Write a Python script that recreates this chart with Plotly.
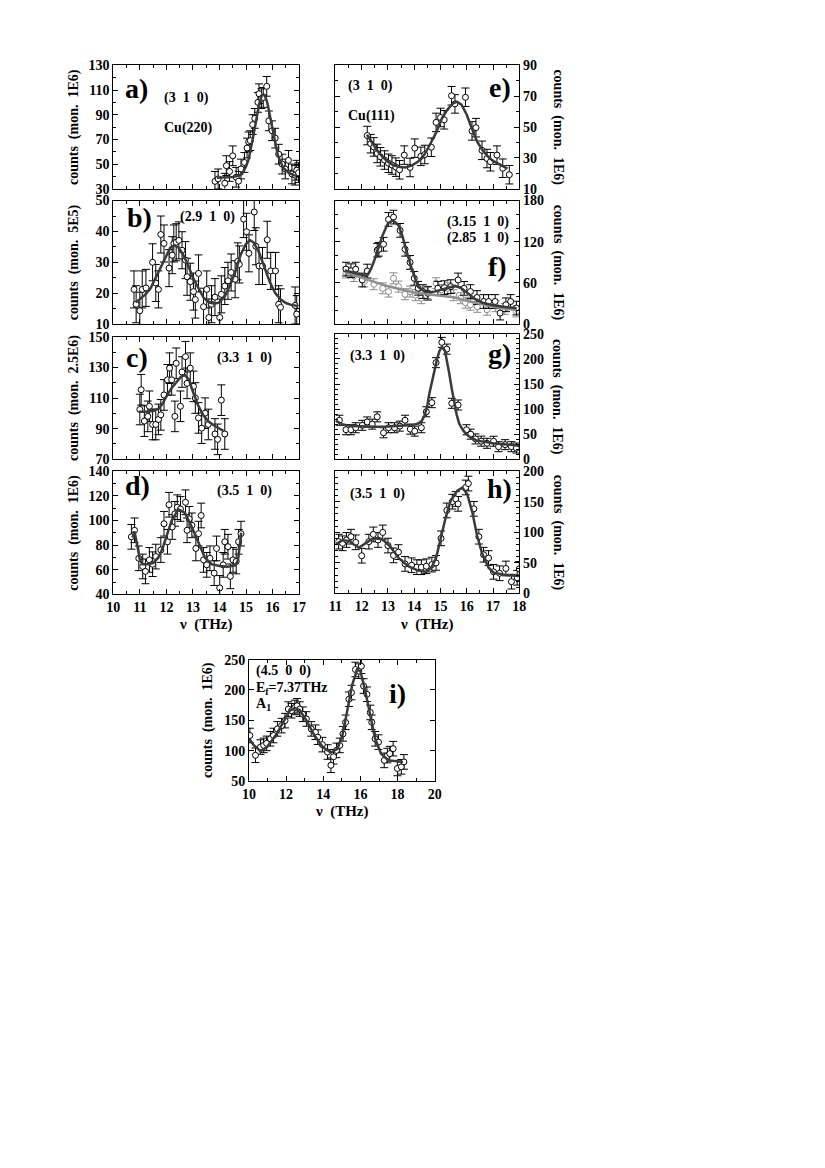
import plotly.graph_objects as go

W, H = 825, 1168
SERIF = "Liberation Serif"

# ---- panel a) (3 1 0), Cu(220)
a_x = [13.83, 13.95, 14.2, 14.26, 14.38, 14.5, 14.63, 14.72, 14.81, 14.94, 15.04, 15.1, 15.16, 15.25,
       15.33, 15.45, 15.49, 15.58, 15.65, 15.78, 15.86, 15.98, 16.1, 16.23, 16.36, 16.48, 16.6, 16.73,
       16.85, 16.91, 16.98]
a_y = [36, 38, 34.5, 48.7, 44, 56.7, 39.3, 36.1, 46, 51.3, 63, 68, 69, 82, 87, 100, 107, 103, 104, 113,
       85, 77, 71, 58, 50, 46, 53, 42, 41, 45, 43]
a_fit_x = [13.9, 14.2, 14.5, 14.7, 14.85, 15.0, 15.1, 15.25, 15.4, 15.5, 15.6, 15.7, 15.8, 15.9, 16.0,
           16.1, 16.2, 16.4, 16.6, 16.8, 16.95]
a_fit_y = [39, 39, 39.5, 40.5, 42, 48, 54, 70, 89, 99, 106, 106, 100, 89, 78, 67, 57, 47, 43, 41, 40]

# ---- panel b) (2.9 1 0)
b_x = [10.78, 10.86, 11.0, 11.09, 11.23, 11.48, 11.6, 11.7, 11.79, 11.91, 12.1, 12.22, 12.28, 12.37,
       12.47, 12.59, 12.72, 12.78, 12.9, 13.02, 13.09, 13.21, 13.4, 13.52, 13.6, 13.7, 13.83, 14.01,
       14.07, 14.2, 14.32, 14.44, 14.59, 14.69, 14.75, 14.91, 15.02, 15.11, 15.31, 15.37, 15.49, 15.62,
       15.8, 15.93, 16.11, 16.23, 16.3, 16.85, 16.91]
b_y = [21.2, 16.4, 14.3, 21.2, 21.7, 30, 23.3, 21.2, 39, 36.1, 28.1, 32.3, 36.1, 36.5, 37.1, 33.9, 30.7,
       25.3, 23.7, 20.5, 17.9, 26.4, 15.6, 21.2, 12.1, 16.4, 18.7, 12.1, 19.6, 22.3, 24, 26.7, 24.5, 30.3,
       29.3, 44, 39.9, 32.9, 46.3, 35.2, 28.8, 28.8, 37.3, 27.2, 27.2, 16.4, 15.4, 16, 13.2]
b_fit_x = [10.85, 11.0, 11.2, 11.4, 11.6, 11.8, 12.0, 12.15, 12.3, 12.45, 12.6, 12.8, 13.0, 13.2, 13.4,
           13.6, 13.8, 14.0, 14.2, 14.4, 14.6, 14.8, 15.0, 15.15, 15.3, 15.5, 15.7, 15.9, 16.1, 16.3,
           16.5, 16.7, 16.95]
b_fit_y = [17, 18, 19.5, 21.5, 25, 29, 32.5, 34.8, 35.5, 34.8, 33, 29.5, 25, 21.5, 18.5, 17, 16.6, 17,
           19, 22.5, 27, 32.5, 36, 37.2, 36.3, 33, 28.5, 23.5, 20, 18, 16.8, 16.2, 15.8]

# ---- panel c) (3.3 1 0)
c_x = [11.0, 11.05, 11.17, 11.3, 11.36, 11.48, 11.6, 11.7, 11.79, 11.91, 12.04, 12.12, 12.2, 12.32,
       12.37, 12.53, 12.59, 12.72, 12.78, 12.9, 13.02, 13.09, 13.21, 13.33, 13.46, 13.58, 13.83, 13.93,
       14.07, 14.2]
c_y = [102.5, 115.4, 94.9, 98, 104.6, 92.7, 92.7, 96, 99, 112, 121.9, 129.5, 121.9, 98, 132.7, 104.6,
       127, 137, 119.6, 129.5, 117.6, 110, 97, 90.3, 100.1, 92.7, 86.5, 83, 108.6, 86.5]
c_fit_x = [10.95, 11.2, 11.5, 11.7, 11.85, 12.0, 12.2, 12.4, 12.55, 12.7, 12.85, 13.0, 13.2, 13.4,
           13.6, 13.8, 14.0, 14.15]
c_fit_y = [101, 101, 101.5, 103, 106, 111, 116.5, 121, 124, 125, 122, 114, 105, 98.5, 94.5, 92, 90, 88.5]

# ---- panel d) (3.5 1 0)
d_x = [10.68, 10.8, 10.96, 11.11, 11.21, 11.36, 11.48, 11.6, 11.79, 11.91, 12.04, 12.1, 12.22, 12.32,
       12.41, 12.53, 12.72, 12.78, 12.86, 12.96, 13.11, 13.21, 13.31, 13.4, 13.52, 13.64, 13.8, 13.89,
       14.01, 14.14, 14.2, 14.32, 14.41, 14.51, 14.63, 14.72, 14.81]
d_y = [86.7, 92, 69.3, 62.7, 58.7, 68, 64.5, 70.7, 76, 97.3, 82.7, 112.7, 94.7, 105.3, 110.7, 109.3,
       114.7, 92, 101.3, 96, 77.3, 89.3, 104, 68, 64, 69.3, 57.3, 77.3, 45.3, 64, 82.7, 78.7, 54.7, 68,
       66.7, 82.7, 89.3]
d_fit_x = [10.72, 10.8, 10.9, 11.0, 11.1, 11.3, 11.5, 11.7, 11.85, 12.0, 12.2, 12.45, 12.7, 12.95,
           13.2, 13.45, 13.7, 14.0, 14.3, 14.6, 14.7, 14.76, 14.82]
d_fit_y = [86, 91, 80, 68, 64.5, 64.5, 65.5, 70, 77, 87, 100, 109, 106, 95, 82, 70, 64.5, 63, 62.5,
           63.5, 68, 78, 90]

# ---- panel e) (3 1 0), Cu(111)
e_x = [12.21, 12.34, 12.46, 12.59, 12.71, 12.87, 13.02, 13.15, 13.3, 13.44, 13.62, 13.84, 14.02, 14.25,
       14.4, 14.65, 14.83, 15.0, 15.14, 15.42, 15.55, 15.95, 16.2, 16.35, 16.58, 16.77, 16.9, 17.15,
       17.37, 17.62]
e_y = [44.5, 39.2, 37.1, 32.9, 30.7, 28.6, 26.5, 25.4, 24, 22.3, 31.8, 23.8, 36.3, 31, 32.2, 36.9, 53,
       56.2, 54.7, 70.3, 65, 69.3, 47.5, 49.6, 34.9, 29.6, 27.5, 31.8, 23.3, 19.1]
e_fit_x = [12.2, 12.4, 12.6, 12.8, 13.0, 13.2, 13.4, 13.65, 13.9, 14.15, 14.4, 14.65, 14.85, 15.05,
           15.25, 15.45, 15.62, 15.8, 16.0, 16.15, 16.4, 16.6, 16.8, 17.0, 17.2, 17.4, 17.55]
e_fit_y = [45, 39.5, 34.5, 30.5, 27.5, 25.3, 24.2, 23.8, 25, 27.6, 32.5, 40.3, 47, 55.5, 61, 65, 66.5,
           64.5, 58, 51, 40.3, 35, 31, 28, 26, 24.3, 23]

# ---- panel f) (3.15 1 0) dark, (2.85 1 0) grey
f_x = [11.4, 11.59, 11.77, 12.02, 12.21, 12.59, 12.65, 12.83, 13.02, 13.21, 13.46, 13.65, 13.84, 14.0,
       14.15, 14.33, 14.52, 14.9, 15.15, 15.39, 15.67, 15.9, 16.14, 16.39, 16.64, 16.83, 17.08, 17.27,
       17.49, 17.67, 17.89]
f_y = [80, 77.7, 80, 64.2, 77.2, 107.6, 109, 116.3, 152.5, 155.9, 136.6, 109, 89.8, 66.6, 52.1, 47.3,
       44.9, 52.1, 53, 54.5, 64.2, 52, 47.3, 38.6, 32.8, 32.8, 32.8, 15.9, 28, 32.8, 23.2]
f_fit_x = [11.35, 11.6, 11.9, 12.2, 12.35, 12.5, 12.65, 12.8, 13.0, 13.2, 13.4, 13.55, 13.7, 13.9,
           14.15, 14.4, 14.7, 15.0, 15.3, 15.55, 15.8, 16.05, 16.3, 16.6, 16.9, 17.3, 17.6, 17.9]
f_fit_y = [78, 76, 73, 70, 80, 95, 113, 130, 147, 151, 144, 128, 107, 81, 54, 47, 46.5, 49.5, 53, 55.5,
           52, 44, 37, 31, 28, 25.5, 24.5, 23]
f2_x = [11.4, 11.7, 12.1, 12.46, 12.8, 13.02, 13.21, 13.4, 13.65, 13.84, 14.05, 14.27, 14.5, 14.83,
        15.02, 15.27, 15.5, 15.77, 15.95, 16.14, 16.4, 16.77, 17.1, 17.45, 17.89]
f2_y = [75, 70, 62, 58, 52, 47.3, 66.6, 54.5, 43.4, 47.3, 42, 37.6, 45, 59.4, 49.7, 52.1, 42, 37.6, 31,
        28, 25, 20.8, 26, 22, 18.3]
f2_fit_x = [11.35, 12.0, 12.5, 13.0, 13.5, 14.0, 14.5, 15.0, 15.5, 16.0, 16.5, 17.0, 17.5, 17.9]
f2_fit_y = [76, 67, 61, 55, 50, 46, 43.5, 41.5, 39, 34, 29, 25, 22, 20.5]

# ---- panel g) (3.3 1 0)
g_x = [11.15, 11.4, 11.59, 11.77, 12.02, 12.21, 12.4, 12.59, 12.83, 13.02, 13.25, 13.45, 13.65, 13.85,
       14.02, 14.27, 14.46, 14.67, 14.83, 15.05, 15.24, 15.43, 15.67, 15.99, 16.15, 16.33, 16.55, 16.77,
       17.02, 17.21, 17.46, 17.7, 17.89]
g_y = [77.7, 58.8, 58.8, 62.8, 67.6, 74.3, 70, 84.5, 52.7, 62.8, 62.8, 66, 77.7, 60, 56, 62.8, 94.6,
       112.8, 192.6, 233, 219.6, 111.5, 108.1, 58.8, 50, 40.5, 36, 31.8, 35.8, 25, 29, 25, 22.3]
g_fit_x = [11.0, 11.25, 11.6, 12.0, 12.5, 13.0, 13.5, 13.9, 14.15, 14.28, 14.4, 14.5, 14.58, 14.68,
           14.77, 14.87, 14.96, 15.05, 15.17, 15.25, 15.33, 15.43, 15.52, 15.62, 15.71, 15.85, 15.96,
           16.15, 16.4, 16.7, 17.0, 17.4, 17.7, 18.0]
g_fit_y = [77, 70, 66, 65, 64.5, 65, 66, 68, 71, 76, 88, 108, 132, 158, 179, 200, 216, 224, 216, 197,
           172, 140, 112, 88, 71, 58, 51, 43, 37, 34, 32, 30, 28.5, 27]

# ---- panel h) (3.5 1 0)
h_x = [11.12, 11.27, 11.42, 11.59, 11.77, 12.0, 12.27, 12.44, 12.62, 12.8, 13.0, 13.21, 13.4, 13.65,
       13.9, 14.1, 14.27, 14.46, 14.67, 14.83, 15.02, 15.24, 15.45, 15.58, 15.67, 15.96, 16.06, 16.27,
       16.46, 16.64, 16.83, 17.02, 17.25, 17.49, 17.7, 17.92, 18.0]
h_y = [84.7, 82, 87.4, 92.8, 83.6, 61.7, 84.7, 96.5, 87.4, 99.7, 78.3, 62.2, 67.6, 48.3, 46.1, 43, 42.9,
       44.5, 47.2, 49.9, 90.1, 135.7, 150, 154.4, 146.4, 173.2, 179.6, 138.3, 92.8, 63.3, 57.9, 35.4, 33,
       40.8, 19.3, 25.7, 40.2]
h_fit_x = [11.0, 11.27, 11.52, 11.7, 11.9, 12.15, 12.35, 12.52, 12.77, 13.08, 13.4, 13.77, 14.15, 14.46,
           14.65, 14.83, 15.02, 15.2, 15.39, 15.64, 15.83, 16.02, 16.21, 16.39, 16.58, 16.83, 17.02,
           17.52, 18.0]
h_fit_y = [80, 87, 86, 80, 75, 82, 88, 90, 89, 77, 58, 44.5, 37.5, 35.4, 42, 58, 90, 125, 152, 168, 173,
           162, 133, 95, 66, 42, 34, 30, 28.5]

# ---- panel i) (4.5 0 0)
i_x = [10.05, 10.35, 10.62, 10.79, 10.95, 11.15, 11.32, 11.53, 11.76, 11.94, 12.12, 12.29, 12.47, 12.59,
       12.73, 12.9, 13.09, 13.35, 13.58, 13.7, 13.95, 14.23, 14.41, 14.55, 14.71, 14.89, 15.06, 15.2,
       15.38, 15.52, 15.73, 15.91, 16.05, 16.17, 16.35, 16.53, 16.61, 16.79, 16.97, 17.28, 17.45, 17.58,
       17.76, 17.99, 18.2, 18.34]
i_y = [125, 92.4, 106, 108.7, 112, 119.6, 125, 135.9, 141.3, 149.5, 168.5, 165.8, 171.2, 173.9, 168.5,
       160, 152.2, 135.9, 130.4, 122.3, 110, 97.8, 76, 90, 100.5, 108.7, 127.7, 146.7, 184.8, 195.7,
       233.7, 231, 239.1, 206.5, 192.9, 163, 146.7, 119.6, 114.1, 84, 92, 95.1, 103.3, 70.7, 73.4, 81.5]
i_fit_x = [10.0, 10.26, 10.62, 10.97, 11.5, 11.94, 12.2, 12.47, 12.73, 13.09, 13.53, 13.97, 14.41, 14.76,
           15.03, 15.29, 15.56, 15.82, 16.0, 16.26, 16.53, 16.79, 17.11, 17.5, 17.85, 18.29]
i_fit_y = [120, 109, 99, 106, 128, 152, 166, 170, 167, 150, 125, 106, 97, 103, 125, 166, 209, 233, 231,
           198, 155, 120, 95, 84, 83, 81.5]

# panel boxes in pixels: left, right, top, bottom
panels = [
    dict(id=1, box=(100, 289, 51, 176), xr=[10, 17], yr=[30, 130], yd=20, ym=10, side="left",
         xlab=False, pts=[(a_x, a_y, a_fit_x, a_fit_y, 8, "black")], ylab="counts  (mon.  1E6)"),
    dict(id=2, box=(100, 289, 188, 313), xr=[10, 17], yr=[10, 50], yd=10, ym=5, side="left",
         xlab=False, pts=[(b_x, b_y, b_fit_x, b_fit_y, 6, "black")], ylab="counts  (mon.  5E5)"),
    dict(id=3, box=(100, 289, 326, 450), xr=[10, 17], yr=[70, 150], yd=20, ym=10, side="left",
         xlab=False, pts=[(c_x, c_y, c_fit_x, c_fit_y, 10, "black")], ylab="counts  (mon.  2.5E6)"),
    dict(id=4, box=(100, 289, 462, 587), xr=[10, 17], yr=[40, 140], yd=20, ym=10, side="left",
         xlab=True, pts=[(d_x, d_y, d_fit_x, d_fit_y, 10, "black")], ylab="counts  (mon.  1E6)"),
    dict(id=5, box=(326, 513, 51, 176), xr=[11, 18], yr=[10, 90], yd=20, ym=10, side="right",
         xlab=False, pts=[(e_x, e_y, e_fit_x, e_fit_y, 6, "black")], ylab="counts  (mon.  1E6)"),
    dict(id=6, box=(326, 513, 188, 313), xr=[11, 18], yr=[0, 180], yd=60, ym=20, side="right",
         xlab=False, pts=[(f2_x, f2_y, f2_fit_x, f2_fit_y, 8, "#8a8a8a"),
                          (f_x, f_y, f_fit_x, f_fit_y, 10, "black")], ylab="counts  (mon.  1E6)"),
    dict(id=7, box=(326, 513, 323, 450), xr=[11, 18], yr=[0, 250], yd=50, ym=10, side="right",
         xlab=False, pts=[(g_x, g_y, g_fit_x, g_fit_y, 10, "black")], ylab="counts  (mon.  1E6)"),
    dict(id=8, box=(326, 513, 462, 586), xr=[11, 18], yr=[0, 200], yd=50, ym=10, side="right",
         xlab=True, pts=[(h_x, h_y, h_fit_x, h_fit_y, 12, "black")], ylab="counts  (mon.  1E6)"),
    dict(id=9, box=(238, 427, 653, 776), xr=[10, 20], yr=[50, 250], yd=50, ym=None, side="left",
         xlab=True, pts=[(i_x, i_y, i_fit_x, i_fit_y, 12, "black")], ylab="counts  (mon.  1E6)"),
]

tickfont = dict(family=SERIF, size=14, color="black", weight="bold")
fig = go.Figure()
annotations = []


def note(text, x, y, size=14, xanchor="left", angle=0):
    annotations.append(dict(text=text, x=x / W, y=1 - y / H, xref="paper", yref="paper",
                            xanchor=xanchor, yanchor="middle", showarrow=False, textangle=angle,
                            font=dict(family=SERIF, size=size, color="black", weight="bold")))


layout = {}
for p in panels:
    n = p["id"]
    l, r, t, b = p["box"]
    xs = "" if n == 1 else str(n)
    xdt = 2 if n == 9 else 1
    layout["xaxis" + xs] = dict(
        domain=[l / W, r / W], range=p["xr"], anchor="y" + xs, dtick=xdt, tick0=p["xr"][0],
        showticklabels=p["xlab"], ticks="inside", ticklen=5, tickcolor="black",
        showline=True, linecolor="black", linewidth=1, mirror="ticks",
        showgrid=False, zeroline=False, tickfont=tickfont,
        minor=dict(ticks="inside", ticklen=3, dtick=xdt / 2, tickcolor="black", showgrid=False))
    ya = dict(
        domain=[1 - b / H, 1 - t / H], range=p["yr"], anchor="x" + xs, dtick=p["yd"],
        tick0=p["yr"][0], side=p["side"], ticks="inside", ticklen=5, tickcolor="black",
        showline=True, linecolor="black", linewidth=1, mirror="ticks",
        showgrid=False, zeroline=False, tickfont=tickfont)
    if p["ym"]:
        ya["minor"] = dict(ticks="inside", ticklen=3, dtick=p["ym"], tickcolor="black", showgrid=False)
    layout["yaxis" + xs] = ya

    for px_, py_, fx, fy, err, col in p["pts"]:
        fig.add_trace(go.Scatter(
            x=px_, y=py_, mode="markers", xaxis="x" + xs, yaxis="y" + xs,
            marker=dict(symbol="circle", size=6, color="white", line=dict(color=col, width=1)),
            error_y=dict(type="constant", value=err, color=col, thickness=1, width=4),
            showlegend=False))
    for px_, py_, fx, fy, err, col in p["pts"]:
        fig.add_trace(go.Scatter(
            x=fx, y=fy, mode="lines", xaxis="x" + xs, yaxis="y" + xs,
            line=dict(color="#3a3a3a" if col == "black" else "#8f8f8f", width=2.5),
            showlegend=False))

    cy = (t + b) / 2
    if p["side"] == "left":
        lx = 197 if n == 9 else 60
        note(p["ylab"], lx, cy, size=14, xanchor="center", angle=-90)
    else:
        note(p["ylab"], 552, cy, size=14, xanchor="center", angle=90)

# x axis titles
note("\u03bd  (THz)", 194.5, 617, size=15, xanchor="center")
note("\u03bd  (THz)", 419.5, 617, size=15, xanchor="center")
note("\u03bd  (THz)", 332.5, 807, size=15, xanchor="center")

# panel letters and labels
sp = "\u00a0\u00a0"
note("a)", 110, 74, size=28)
note("(3" + sp + "1" + sp + "0)", 150, 84)
note("Cu(220)", 150, 114)
note("b)", 112, 205, size=28)
note("(2.9" + sp + "1" + sp + "0)", 166, 205)
note("c)", 111, 347, size=28)
note("(3.3" + sp + "1" + sp + "0)", 203, 347)
note("d)", 110, 477, size=28)
note("(3.5" + sp + "1" + sp + "0)", 203, 482)
note("(3" + sp + "1" + sp + "0)", 337, 72)
note("Cu(111)", 337, 102)
note("e)", 507, 73, size=28, xanchor="right")
note("(3.15" + sp + "1" + sp + "0)", 505, 210, xanchor="right")
note("(2.85" + sp + "1" + sp + "0)", 505, 226, xanchor="right")
note("f)", 503, 255, size=28, xanchor="right")
note("(3.3" + sp + "1" + sp + "0)", 339, 345)
note("g)", 507, 343, size=28, xanchor="right")
note("(3.5" + sp + "1" + sp + "0)", 339, 485)
note("h)", 508, 480, size=28, xanchor="right")
note("(4.5" + sp + "0" + sp + "0)", 243, 665)
note("E<sub>f</sub>=7.37THz", 243, 682)
note("A<sub>1</sub>", 243, 698)
note("i)", 400, 687, size=28, xanchor="right")

fig.update_layout(
    width=W, height=H, margin=dict(l=0, r=0, t=0, b=0),
    paper_bgcolor="white", plot_bgcolor="white",
    annotations=annotations, **layout)

fig.write_html("out.html")
